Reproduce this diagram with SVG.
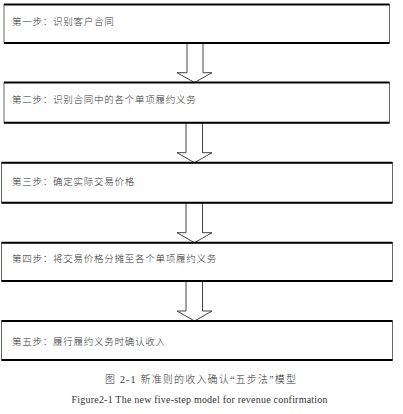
<svg xmlns="http://www.w3.org/2000/svg" width="403" height="414" viewBox="0 0 403 414">
<style>
.bg{fill:#fff;stroke:#666;stroke-width:1}
.edge{stroke:#000;stroke-width:2;fill:none}
.arr{fill:#fff;stroke:#444;stroke-width:1;stroke-linejoin:miter}
.lbl{font-family:"Noto Sans CJK SC","Noto Sans CJK JP",sans-serif;font-size:9.5px;font-weight:300;letter-spacing:0.75px;fill:#333}
.cap{font-family:"Liberation Serif","Noto Sans CJK SC",serif;font-size:10px;font-weight:300;fill:#333}
</style>
<rect x="0" y="0" width="403" height="414" fill="#fff"/>
<g id="connectors">
<polygon class="arr" points="187,43 203,43 203,72.7 212,72.7 194.5,82.5 177,72.7 187,72.7"/>
<polygon class="arr" points="186,122.7 202.5,122.7 202.5,152.7 212,152.7 194.5,162.7 177,152.7 186,152.7"/>
<polygon class="arr" points="186,202.7 202.5,202.7 202.5,232.7 212,232.7 194.5,242.7 177,232.7 186,232.7"/>
<polygon class="arr" points="186,281 202.5,281 202.5,311 212,311 194.5,321 177,311 186,311"/>
</g>
<g id="step1">
<rect class="bg" x="4" y="4.5" width="385.5" height="38.5"/>
<line class="edge" x1="4" y1="4.5" x2="389.5" y2="4.5"/>
<line class="edge" x1="4" y1="43" x2="389.5" y2="43"/>
<text class="lbl" x="12" y="24.5">第一步：识别客户合同</text>
</g>
<g id="step2">
<rect class="bg" x="4" y="82.5" width="385.5" height="40.2"/>
<line class="edge" x1="4" y1="82.5" x2="389.5" y2="82.5"/>
<line class="edge" x1="4" y1="122.7" x2="389.5" y2="122.7"/>
<text class="lbl" x="12" y="102.5">第二步：识别合同中的各个单项履约义务</text>
</g>
<g id="step3">
<rect class="bg" x="1.5" y="162.7" width="391" height="40"/>
<line class="edge" x1="1.5" y1="162.7" x2="392.5" y2="162.7"/>
<line class="edge" x1="1.5" y1="202.7" x2="392.5" y2="202.7"/>
<text class="lbl" x="12" y="184.5">第三步：确定实际交易价格</text>
</g>
<g id="step4">
<rect class="bg" x="1.5" y="242.7" width="391" height="38.3"/>
<line class="edge" x1="1.5" y1="242.7" x2="392.5" y2="242.7"/>
<line class="edge" x1="1.5" y1="281" x2="392.5" y2="281"/>
<text class="lbl" x="12" y="261.5">第四步：将交易价格分摊至各个单项履约义务</text>
</g>
<g id="step5">
<rect class="bg" x="1.5" y="321" width="391" height="39"/>
<line class="edge" x1="1.5" y1="321" x2="392.5" y2="321"/>
<line class="edge" x1="1.5" y1="360" x2="392.5" y2="360"/>
<text class="lbl" x="12" y="344.5">第五步：履行履约义务时确认收入</text>
</g>
<g id="captions">
<text class="cap" x="105" y="383" textLength="191" lengthAdjust="spacing">图 2-1  新准则的收入确认“五步法”模型</text>
<text class="cap" x="71.5" y="403" textLength="256" lengthAdjust="spacing">Figure2-1 The new five-step model for revenue confirmation</text>
</g>
</svg>
